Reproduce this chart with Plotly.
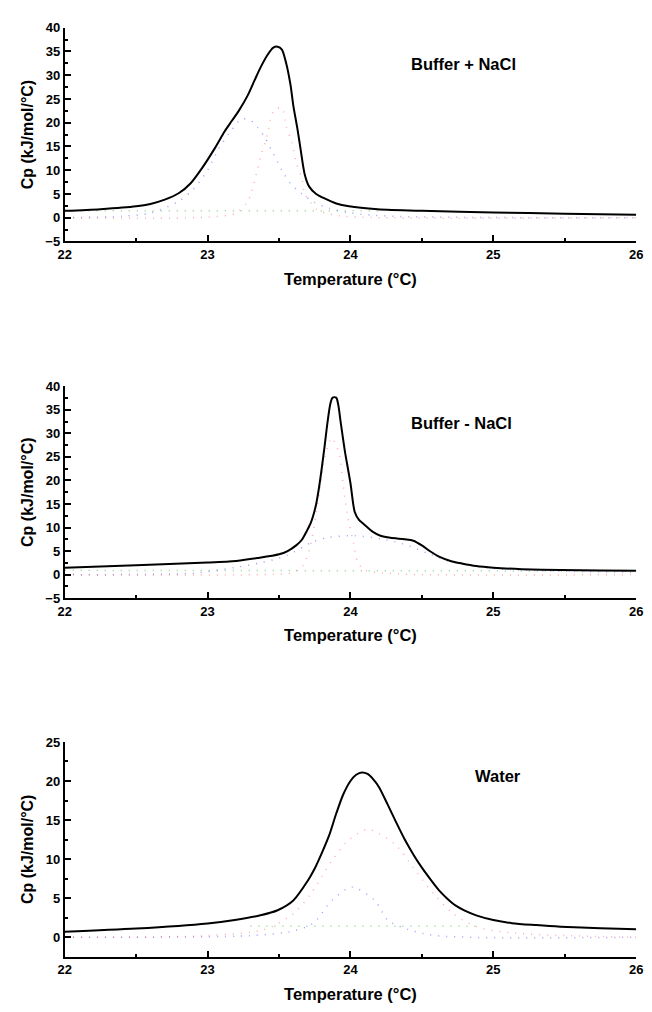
import plotly.graph_objects as go

# ---- Buffer + NaCl ----
t1 = [22.0, 22.25, 22.5, 22.6, 22.7, 22.8, 22.88, 22.96, 23.05, 23.12, 23.17, 23.22, 23.28, 23.33,
      23.37, 23.42, 23.46, 23.49, 23.52, 23.55, 23.58, 23.6, 23.63, 23.65, 23.68, 23.71, 23.76,
      23.83, 23.9, 23.99, 24.19, 24.5, 25.0, 25.5, 26.0]
cp1 = [1.45, 1.8, 2.4, 2.9, 3.8, 5.2, 7.2, 10.4, 14.6, 18.2, 20.4, 22.6, 25.7, 29.0,
       31.6, 34.3, 35.8, 36.0, 35.4, 32.5, 28.0, 23.6, 18.5, 14.6, 9.1, 6.6, 5.0,
       3.9, 3.0, 2.4, 1.8, 1.45, 1.1, 0.85, 0.6]
t1_blue = [22.0, 22.4, 22.6, 22.8, 22.9, 23.0, 23.08, 23.15, 23.24, 23.3, 23.35, 23.39, 23.46,
           23.52, 23.58, 23.66, 23.75, 23.85, 24.0, 24.3, 26.0]
cp1_blue = [0.0, 0.3, 1.0, 3.5, 6.0, 10.0, 14.6, 17.7, 20.8, 20.5, 19.0, 17.4, 13.5,
            10.0, 7.2, 5.0, 3.2, 2.0, 1.0, 0.3, 0.0]
t1_red = [22.0, 23.0, 23.2, 23.27, 23.3, 23.35, 23.38, 23.42, 23.44, 23.47, 23.52, 23.55, 23.59,
          23.62, 23.66, 23.68, 23.72, 23.76, 23.85, 24.0, 26.0]
cp1_red = [0.0, 0.1, 1.0, 3.0, 4.7, 10.3, 13.7, 17.6, 20.7, 22.8, 23.1, 19.2, 15.8,
           11.7, 8.3, 5.0, 3.3, 1.8, 0.8, 0.2, 0.0]
t1_green = [22.0, 24.2]
cp1_green = [1.45, 1.45]

# ---- Buffer - NaCl ----
t2 = [22.0, 22.5, 23.0, 23.2, 23.35, 23.5, 23.56, 23.62, 23.66, 23.69, 23.72, 23.74, 23.76,
      23.78, 23.8, 23.82, 23.84, 23.86, 23.875, 23.9, 23.915, 23.93, 23.96, 24.0, 24.03,
      24.06, 24.08, 24.12, 24.16, 24.21, 24.28, 24.38, 24.44, 24.5, 24.56, 24.62, 24.7,
      24.78, 24.88, 25.0, 25.2, 25.47, 25.75, 26.0]
cp2 = [1.45, 2.0, 2.55, 2.9, 3.5, 4.3, 5.0, 6.2, 7.4, 9.0, 10.8, 12.6, 15.0,
       18.5, 22.8, 27.5, 32.5, 36.4, 37.6, 37.6, 36.0, 32.7, 26.4, 19.4, 13.3,
       11.6, 11.05, 10.0, 9.0, 8.25, 7.8, 7.5, 7.2, 6.2, 4.9, 3.8, 2.9,
       2.35, 1.8, 1.45, 1.15, 0.95, 0.85, 0.8]
t2_red = [22.0, 23.5, 23.6, 23.67, 23.72, 23.76, 23.79, 23.82, 23.87, 23.92, 23.95, 23.98,
          24.02, 24.05, 24.1, 24.3, 26.0]
cp2_red = [0.0, 0.1, 0.5, 2.0, 6.2, 13.1, 18.7, 25.0, 29.0, 25.7, 18.7, 12.4,
           6.9, 2.7, 1.0, 0.2, 0.0]
t2_blue = [22.0, 22.9, 23.19, 23.37, 23.55, 23.74, 23.85, 24.03, 24.21, 24.37, 24.55, 24.71,
           25.0, 25.5, 26.0]
cp2_blue = [0.0, 0.3, 1.5, 2.5, 4.0, 7.0, 7.9, 8.25, 7.6, 6.5, 4.4, 2.7,
            1.3, 0.7, 0.5]
t2_green = [22.0, 26.0]
cp2_green = [0.9, 0.75]

# ---- Water ----
t3 = [22.0, 22.5, 23.0, 23.19, 23.37, 23.49, 23.6, 23.7, 23.75, 23.8, 23.85, 23.9, 23.95,
      24.0, 24.04, 24.08, 24.12, 24.16, 24.2, 24.26, 24.32, 24.38, 24.44, 24.5, 24.56,
      24.62, 24.68, 24.74, 24.8, 24.88, 25.0, 25.13, 25.3, 25.47, 25.75, 26.0]
cp3 = [0.7, 1.1, 1.75, 2.2, 2.8, 3.45, 4.7, 7.2, 8.8, 10.8, 13.0, 15.8, 18.3,
       20.0, 20.8, 21.1, 20.9, 20.2, 19.2, 17.0, 14.7, 12.5, 10.6, 8.9, 7.4,
       6.0, 4.9, 4.0, 3.4, 2.8, 2.2, 1.8, 1.55, 1.35, 1.15, 1.0]
t3_red = [22.0, 23.0, 23.4, 23.6, 23.72, 23.87, 23.98, 24.12, 24.31, 24.44, 24.58, 24.72,
          24.88, 25.1, 25.5, 26.0]
cp3_red = [0.0, 0.2, 1.0, 3.0, 5.5, 9.8, 12.3, 13.8, 11.9, 8.9, 5.6, 3.0,
           1.35, 0.6, 0.2, 0.0]
t3_blue = [22.0, 23.3, 23.6, 23.74, 23.87, 24.01, 24.17, 24.26, 24.4, 24.6, 26.0]
cp3_blue = [0.0, 0.2, 0.8, 1.8, 4.7, 6.4, 4.7, 2.2, 1.0, 0.2, 0.0]
t3_green = [23.3, 24.9]
cp3_green = [1.4, 1.4]

labels = ["Buffer + NaCl", "Buffer - NaCl", "Water"]
label_pos = [(24.79, 32.3), (24.78, 32.3), (25.03, 20.7)]

panels = [
    (t1, cp1, [(t1_blue, cp1_blue), (t1_red, cp1_red), (t1_green, cp1_green)]),
    (t2, cp2, [(t2_blue, cp2_blue), (t2_red, cp2_red), (t2_green, cp2_green)]),
    (t3, cp3, [(t3_blue, cp3_blue), (t3_red, cp3_red), (t3_green, cp3_green)]),
]
dot_colors = ["rgba(60,60,255,0.5)", "rgba(255,70,70,0.45)", "rgba(40,170,40,0.5)"]

FONT = "Arial, Liberation Sans, sans-serif"
W, H = 652, 1012

# domains in paper units, taken from pixel positions of the axes
x_dom = [59 / W, 643 / W]
y_doms = [[1 - 238 / H, 1 - 21 / H], [1 - 600 / H, 1 - 385 / H], [1 - 964 / H, 1 - 746 / H]]
y_ranges = [[-5, 40], [-5, 40], [-2.5, 25]]

fig = go.Figure()

for i, (t, cp, comps) in enumerate(panels):
    xa = "x" if i == 0 else f"x{i+1}"
    ya = "y" if i == 0 else f"y{i+1}"
    for (tc, cc), col in zip(comps, dot_colors):
        fig.add_trace(go.Scatter(x=tc, y=cc, xaxis=xa, yaxis=ya, mode="lines",
                                 line=dict(color=col, width=1.5, dash="1px,7px",
                                           shape="spline", smoothing=0.8),
                                 showlegend=False, hoverinfo="skip"))
    fig.add_trace(go.Scatter(x=t, y=cp, xaxis=xa, yaxis=ya, mode="lines",
                             line=dict(color="black", width=2, shape="spline", smoothing=0.8),
                             showlegend=False))

    axis_common = dict(showline=True, linecolor="black", linewidth=2, showgrid=False,
                       zeroline=False, ticks="inside", ticklen=6, tickwidth=1.5,
                       tickcolor="black", ticklabeloverflow="allow",
                       tickfont=dict(family=FONT, size=13, color="black", weight="bold"))
    xkey = "xaxis" if i == 0 else f"xaxis{i+1}"
    ykey = "yaxis" if i == 0 else f"yaxis{i+1}"
    fig.update_layout({
        xkey: dict(axis_common, domain=x_dom, anchor=ya, range=[22, 26], dtick=1,
                   minor=dict(ticks="inside", ticklen=3, dtick=0.5, tickcolor="black", tickwidth=1.5),
                   title=dict(text="Temperature (°C)", standoff=12,
                              font=dict(family=FONT, size=16.5, color="black", weight="bold"))),
        ykey: dict(axis_common, domain=y_doms[i], anchor=xa, range=y_ranges[i], dtick=5,
                   minor=dict(ticks="inside", ticklen=3, dtick=2.5, tickcolor="black", tickwidth=1.5),
                   title=dict(text="Cp (kJ/mol/°C)", standoff=8,
                              font=dict(family=FONT, size=16, color="black", weight="bold"))),
    })
    fig.add_annotation(x=label_pos[i][0], y=label_pos[i][1], xref=xa, yref=ya,
                       text=labels[i], showarrow=False,
                       font=dict(family=FONT, size=16.5, color="black", weight="bold"))

fig.update_layout(width=W, height=H, margin=dict(l=0, r=0, t=0, b=0),
                  plot_bgcolor="white", paper_bgcolor="white")

# drop the default page margin so the figure fills the window exactly
fig.write_html("out.html", config={"displayModeBar": False},
               post_script="document.body.style.margin = '0';")
